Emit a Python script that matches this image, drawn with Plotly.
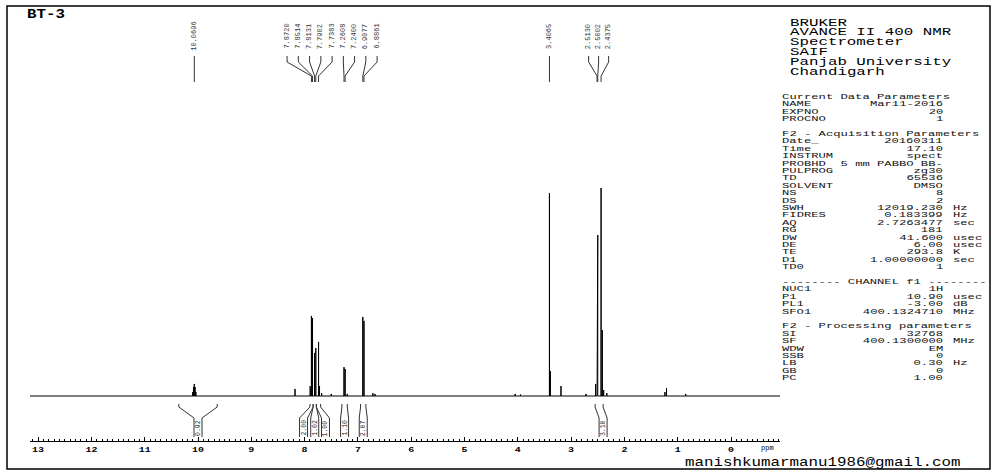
import json
import plotly.graph_objects as go

W, H = 1008, 476

# ---------------- data ----------------
peak_ppm = [10.10, 10.085, 10.07, 10.055, 10.04, 8.18, 7.895, 7.872, 7.8514, 7.8131,
            7.7902, 7.7383, 7.72, 7.68, 7.50, 7.2608, 7.2400, 7.20, 6.9077, 6.8861,
            6.72, 6.68, 4.05, 3.95, 3.4065, 3.39, 3.19, 2.72, 2.54, 2.5130,
            2.5002, 2.4375, 2.415, 2.39, 2.33, 1.24, 1.21, 0.85]
peak_int = [1.9, 4.3, 5.8, 4.3, 1.9, 3.4, 4.8, 38.5, 37.5, 20.7,
            23.1, 26.0, 4.8, 1.4, 1.0, 13.9, 13.0, 1.0, 38.0, 36.1,
            1.4, 1.0, 1.0, 0.7, 97.6, 12.0, 4.8, 1.0, 5.8, 67.3,
            77.4, 100.0, 31.7, 2.9, 1.4, 1.9, 3.8, 1.0]

label_groups = [[10.0696],
                [7.8720, 7.8514, 7.8131, 7.7902, 7.7383, 7.2608, 7.2400, 6.9077, 6.8861],
                [3.4065],
                [2.5130, 2.5002, 2.4375]]

int_from = [10.36, 7.90, 7.84, 7.78, 7.30, 6.95, 2.55]
int_to = [9.64, 7.84, 7.78, 7.70, 7.20, 6.85, 2.40]
int_value = ["0.92", "2.00", "1.02", "1.00", "1.10", "2.07", "3.10"]

tick_vals = [13, 12, 11, 10, 9, 8, 7, 6, 5, 4, 3, 2, 1, 0]
tick_text = [str(v) for v in tick_vals]

title_text = "BT-3"
header_lines = ["BRUKER", "AVANCE II 400 NMR", "Spectrometer", "SAIF",
                "Panjab University", "Chandigarh"]
param_rows = [
    ("Current Data Parameters", None, None),
    ("NAME", "Mar11-2016", ""),
    ("EXPNO", "20", ""),
    ("PROCNO", "1", ""),
    None,
    ("F2 - Acquisition Parameters", None, None),
    ("Date_", "20160311", ""),
    ("Time", "17.10", ""),
    ("INSTRUM", "spect", ""),
    ("PROBHD", "5 mm PABBO BB-", ""),
    ("PULPROG", "zg30", ""),
    ("TD", "65536", ""),
    ("SOLVENT", "DMSO", ""),
    ("NS", "8", ""),
    ("DS", "2", ""),
    ("SWH", "12019.230", "Hz"),
    ("FIDRES", "0.183399", "Hz"),
    ("AQ", "2.7263477", "sec"),
    ("RG", "181", ""),
    ("DW", "41.600", "usec"),
    ("DE", "6.00", "usec"),
    ("TE", "293.8", "K"),
    ("D1", "1.00000000", "sec"),
    ("TD0", "1", ""),
    None,
    ("-------- CHANNEL f1 --------", None, None),
    ("NUC1", "1H", ""),
    ("P1", "10.90", "usec"),
    ("PL1", "-3.00", "dB"),
    ("SFO1", "400.1324710", "MHz"),
    None,
    ("F2 - Processing parameters", None, None),
    ("SI", "32768", ""),
    ("SF", "400.1300000", "MHz"),
    ("WDW", "EM", ""),
    ("SSB", "0", ""),
    ("LB", "0.30", "Hz"),
    ("GB", "0", ""),
    ("PC", "1.00", ""),
]
email_text = "manishkumarmanu1986@gmail.com"

# ---------------- layout geometry ----------------
X_LEFT, X_RIGHT = 13.152, -0.919       # ppm at plot edges
PX_L, PX_R = 30, 780                   # pixel extent of x axis
PY_TOP, PY_BOT = 6, 441                # pixel extent of y domain
Y_MIN, Y_MAX = -21.63, 187.5
FONT = "Liberation Mono"
PPM_PER_PX = (X_LEFT - X_RIGHT) / (PX_R - PX_L)


def ppm2px(p):
    return PX_L + (X_LEFT - p) / PPM_PER_PX


def px2ppm(px):
    return X_LEFT - (px - PX_L) * PPM_PER_PX


def yp(py):
    return 1 - py / H


# ---------------- spectrum ----------------
xs, ys = [X_LEFT], [0]
for p, h in sorted(zip(peak_ppm, peak_int), key=lambda t: -t[0]):
    xs += [p, p, p]
    ys += [0, h, 0]
xs.append(X_RIGHT)
ys.append(0)

fig = go.Figure()
fig.add_trace(go.Scatter(x=xs, y=ys, mode="lines",
                         line=dict(color="black", width=1),
                         hoverinfo="skip", showlegend=False))

annotations = []
stretch = {}
shapes = []


def add_text(text, x, y, xref="paper", size=8, anchor="left", k=1.0,
             angle=0, color="black", bold=False):
    idx = len(annotations)
    annotations.append(dict(
        text=text, x=x, y=y, xref=xref, yref="paper",
        xanchor=anchor, yanchor="middle", showarrow=False,
        textangle=angle,
        font=dict(family=FONT, size=size, color=color,
                  weight="bold" if bold else "normal")))
    if k != 1.0:
        stretch[str(idx)] = [k, anchor]


# title, header, table, email
add_text(title_text, 25 / W, yp(15.5), size=12, k=1.32, bold=True)
for i, line in enumerate(header_lines):
    add_text(line, 788 / W, yp(23 + 9.8 * i), size=10, k=1.58)
for i, row in enumerate(param_rows):
    if row is None:
        continue
    y = yp(97 + 7.4 * i)
    name, val, unit = row
    add_text(name, 780 / W, y, size=7, k=1.74, color="#111")
    if val:
        add_text(val, 945 / W, y, size=7, anchor="right", k=1.74, color="#111")
    if unit:
        add_text(unit, 951 / W, y, size=7, k=1.74, color="#111")
add_text(email_text, 683 / W, yp(463), size=12, k=1.32)
add_text("ppm", px2ppm(767), yp(448), xref="x", size=7, anchor="center")

# peak labels and leaders
group_dx = [0, 11.25, 0, 10.0]
for g, dx in zip(label_groups, group_dx):
    cx = sum(ppm2px(p) for p in g) / len(g)
    n = len(g)
    for i, p in enumerate(g):
        lx = px2ppm(cx + (i - (n - 1) / 2) * dx)
        add_text(f"{p:.4f}", lx, yp(36.5), xref="x", size=7, anchor="center",
                 angle=-90, color="#333")
        if n == 1:
            path = f"M {p},{yp(56)} L {p},{yp(82)}"
        else:
            path = (f"M {lx},{yp(56)} L {lx},{yp(62)} L {p},{yp(76)} "
                    f"L {p},{yp(82)}")
        shapes.append(dict(type="path", path=path, xref="x", yref="paper",
                           line=dict(color="#333", width=1)))

# integrals
int_shift_px = [0, -8, 0, 7, 0, 0, 4]
for a, b, v, s in zip(int_from, int_to, int_value, int_shift_px):
    lpx = (ppm2px(a) + ppm2px(b)) / 2 + s
    ll, lr = px2ppm(lpx - 4), px2ppm(lpx + 4)
    path = (f"M {a},{yp(404)} L {a},{yp(407)} L {ll},{yp(418)} L {ll},{yp(437)} "
            f"M {lr},{yp(437)} L {lr},{yp(418)} L {b},{yp(407)} L {b},{yp(404)}")
    shapes.append(dict(type="path", path=path, xref="x", yref="paper",
                       line=dict(color="#333", width=1)))
    add_text(v, px2ppm(lpx), yp(428), xref="x", size=6.5, anchor="center",
             angle=-90, color="#222")

# outer frame
shapes.append(dict(type="rect", xref="paper", yref="paper",
                   x0=7 / W, x1=990 / W, y0=yp(469), y1=yp(6),
                   line=dict(color="black", width=1.5)))

fig.update_layout(
    width=W, height=H,
    margin=dict(l=0, r=0, t=0, b=0),
    paper_bgcolor="white", plot_bgcolor="white",
    showlegend=False,
    annotations=annotations,
    shapes=shapes,
    xaxis=dict(range=[X_LEFT, X_RIGHT], domain=[PX_L / W, PX_R / W],
               showline=True, linecolor="black", linewidth=1,
               ticks="inside", ticklen=4, tickcolor="black",
               tickvals=tick_vals, ticktext=tick_text,
               tickfont=dict(family=FONT, size=8, color="black", weight="bold"),
               minor=dict(ticks="inside", ticklen=2, dtick=0.1, tick0=0,
                          tickcolor="black"),
               showgrid=False, zeroline=False, fixedrange=True),
    yaxis=dict(range=[Y_MIN, Y_MAX], domain=[yp(PY_BOT), yp(PY_TOP)],
               visible=False, fixedrange=True),
)

post = """
(function(){
  document.body.style.margin = '0';
  document.body.style.padding = '0';
  var gd = document.getElementById('{plot_id}');
  var M = %s;
  function go(){
    gd.querySelectorAll('g.annotation').forEach(function(g){
      var m = M[g.getAttribute('data-index')];
      if(!m) return;
      var t = g.querySelector('text.annotation-text');
      if(!t) return;
      var old = t.getAttribute('transform') || '';
      if(old.indexOf('scale') >= 0) return;
      var bb = t.getBBox();
      var x0 = m[1] == 'left' ? bb.x : (m[1] == 'right' ? bb.x + bb.width : bb.x + bb.width / 2);
      t.setAttribute('transform', 'translate(' + x0 + ',0) scale(' + m[0] + ',1) translate(' + (-x0) + ',0) ' + old);
    });
    gd.querySelectorAll('g.xtick text').forEach(function(t){
      var old = t.getAttribute('transform') || '';
      if(old.indexOf('scale') >= 0) return;
      t.setAttribute('transform', old + ' scale(1.25,1)');
    });
  }
  go();
  if (gd.on) gd.on('plotly_afterplot', go);
  setTimeout(go, 100);
  setTimeout(go, 500);
})();
""" % json.dumps(stretch)

fig.write_html("out.html", post_script=post, config={"displayModeBar": False})
